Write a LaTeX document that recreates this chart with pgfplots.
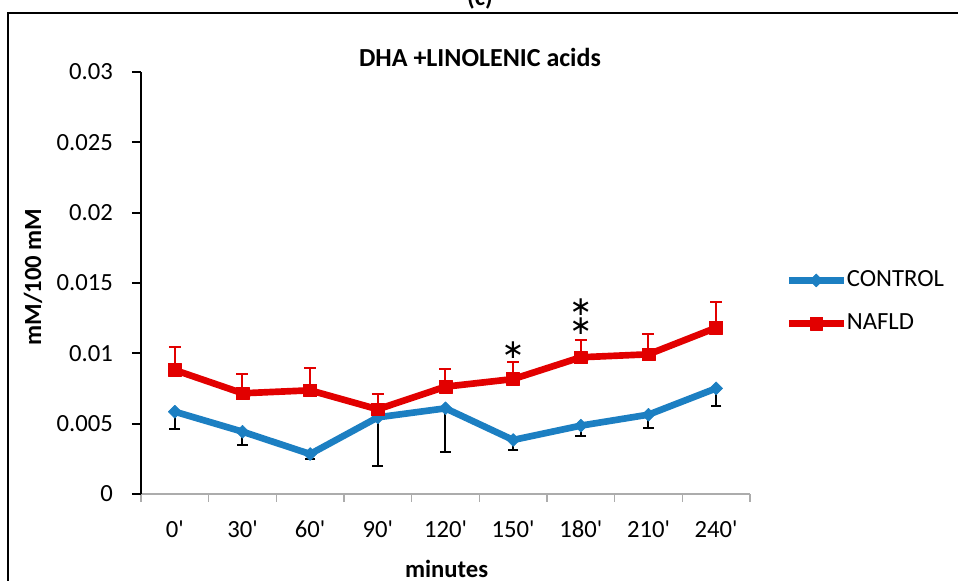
\documentclass[border=0pt]{standalone}
\usepackage{pgfplots}
\pgfplotsset{compat=1.18}
\usepackage{pgfplotstable}
\usepackage{fontspec}
\setmainfont{Carlito}
\newfontfamily\dejavu{DejaVu Sans}
\definecolor{ctrl}{RGB}{28,127,194}
\definecolor{nafld}{RGB}{226,0,0}
\pgfplotstableread{
x y e
0 0.00585 0.00123
1 0.00443 0.00093
2 0.00284 0.00037
3 0.00545 0.00346
4 0.00609 0.00313
5 0.00384 0.00071
6 0.00486 0.00074
7 0.00564 0.00097
8 0.00751 0.00125
}\ctrldata
\pgfplotstableread{
x y e
0 0.00881 0.00166
1 0.00716 0.00140
2 0.00737 0.00160
3 0.00602 0.00110
4 0.00763 0.00123
5 0.00817 0.00123
6 0.00972 0.00120
7 0.00993 0.00147
8 0.01182 0.00180
}\naflddata
\begin{document}
\fontsize{18.5}{22}\selectfont
\begin{tikzpicture}
\clip (0pt,0pt) rectangle (718.5pt,435.75pt);
\useasboundingbox (0pt,0pt) rectangle (718.5pt,435.75pt);
\draw[line width=1.2pt] (6pt,-20pt) rectangle (740pt,426pt);
\node[font=\bfseries, anchor=base] at (360pt,431.25pt) {(c)};
\begin{axis}[
  at={(105.75pt,65.25pt)}, anchor=south west,
  scale only axis, width=456.75pt, height=316.5pt,
  xmin=-0.5, xmax=8.5, ymin=0, ymax=0.03,
  axis lines*=left,
  x axis line style={gray!65, line width=1.3pt},
  y axis line style={black, line width=1.3pt},
  xtick={0,...,8},
  xticklabels={0\textquotesingle,30\textquotesingle,60\textquotesingle,90\textquotesingle,120\textquotesingle,150\textquotesingle,180\textquotesingle,210\textquotesingle,240\textquotesingle},
  minor xtick={-0.5,0.5,...,8.5},
  major x tick style={draw=none},
  minor x tick style={draw=gray!65, line width=1.2pt},
  minor tick length=6pt,
  major tick length=6.75pt,
  tick align=outside,
  ytick={0,0.005,0.01,0.015,0.02,0.025,0.03},
  yticklabels={0,0.005,0.01,0.015,0.02,0.025,0.03},
  ytick style={black, line width=1.3pt},
  scaled y ticks=false,
  xtick pos=left, ytick pos=left,
  /pgf/number format/assume math mode=true,
  xticklabel style={anchor=base, yshift=-26pt},
  yticklabel style={anchor=east, xshift=-8pt},
  clip=false,
  legend style={draw=none, fill=none, at={(axis description cs:1.058,0.455)}, anchor=west,
    row sep=17.75pt, inner sep=0pt, nodes={inner sep=0pt}},
  legend cell align=left,
  legend image code/.code={\draw[mark repeat=2,mark phase=2,#1] plot coordinates {(0pt,0pt) (20.5pt,0pt) (41pt,0pt)};},
]
\addplot[ctrl, line width=5pt, line join=round, mark=square*, mark size=3.4pt,
  mark options={rotate=45, solid, line width=0.5pt},
  error bars/.cd, y dir=minus, y explicit,
  error bar style={black, line width=1.5pt},
  error mark options={rotate=90, black, mark size=4pt, line width=1.5pt}]
  table[x=x, y=y, y error=e] {\ctrldata};
\addlegendentry{CONTROL}
\addplot[nafld, line width=5pt, line join=round, mark=square*, mark size=4.8pt,
  mark options={solid, line width=0.5pt},
  error bars/.cd, y dir=plus, y explicit,
  error bar style={nafld, line width=1.5pt},
  error mark options={rotate=90, nafld, mark size=4.5pt, line width=1.5pt}]
  table[x=x, y=y, y error=e] {\naflddata};
\addlegendentry{NAFLD}
\node[anchor=north, inner sep=0pt, font=\dejavu\fontsize{20}{22}\selectfont] at (axis cs:5,0.01083) {∗};
\node[anchor=north, inner sep=0pt, font=\dejavu\fontsize{20}{22}\selectfont] at (axis cs:6,0.01391) {∗};
\node[anchor=north, inner sep=0pt, font=\dejavu\fontsize{20}{22}\selectfont] at (axis cs:6,0.01253) {∗};
\end{axis}
\node[font=\bfseries\fontsize{19.5}{22}\selectfont] at (360pt,393pt) {DHA +LINOLENIC acids};
\node[font=\bfseries, rotate=90] at (24.75pt,228pt) {mM/100 mM};
\node[font=\bfseries] at (335pt,9pt) {minutes};
\end{tikzpicture}
\end{document}
